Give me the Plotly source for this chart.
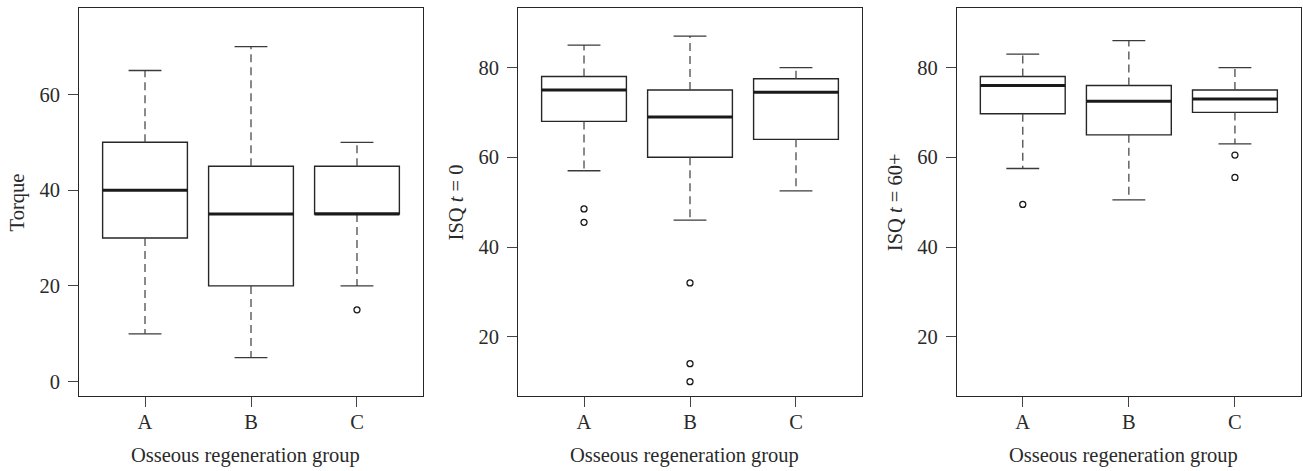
import plotly.graph_objects as go

# ---------------- data ----------------
groups = ["A", "B", "C"]
positions = [1, 2, 3]

torque_q1 = [30, 20, 35]
torque_med = [40, 35, 35]
torque_q3 = [50, 45, 45]
torque_lo = [10, 5, 20]
torque_hi = [65, 70, 50]
torque_out = [[], [], [15]]

isq0_q1 = [68, 60, 64]
isq0_med = [75, 69, 74.5]
isq0_q3 = [78, 75, 77.5]
isq0_lo = [57, 46, 52.5]
isq0_hi = [85, 87, 80]
isq0_out = [[48.5, 45.5], [32, 14, 10], []]

isq60_q1 = [69.7, 65, 70]
isq60_med = [76, 72.5, 73]
isq60_q3 = [78, 76, 75]
isq60_lo = [57.5, 50.5, 63]
isq60_hi = [83, 86, 80]
isq60_out = [[49.5], [], [60.5, 55.5]]

y_titles = ["Torque", "ISQ <i>t</i> = 0", "ISQ <i>t</i> = 60+"]
x_title = "Osseous regeneration group"
y_ticks = [[0, 20, 40, 60], [20, 40, 60, 80], [20, 40, 60, 80]]
y_ranges = [[-3, 78], [6.8, 93.2], [6.8, 93.2]]

# ---------------- style ----------------
W, H = 1303, 471
FONT = "Liberation Serif, Times New Roman, serif"
FS = 20.5
TXT = "#2a2a2a"
LINE = "#262626"
BOX_HALF = 0.4
CAP_HALF = 0.155
frames_px = [(79.3, 422.7), (518.3, 861.7), (957.0, 1300.7)]
frame_top, frame_bot = 8.3, 396.0
xtitle_centers = [245.5, 684.5, 1123.0]

panels = [
    (torque_q1, torque_med, torque_q3, torque_lo, torque_hi, torque_out),
    (isq0_q1, isq0_med, isq0_q3, isq0_lo, isq0_hi, isq0_out),
    (isq60_q1, isq60_med, isq60_q3, isq60_lo, isq60_hi, isq60_out),
]

fig = go.Figure()
annotations = []
layout_axes = {}

for i, (q1, med, q3, lo, hi, outs) in enumerate(panels):
    sfx = "" if i == 0 else str(i + 1)
    xa, ya = "x" + sfx, "y" + sfx

    # dashed whiskers
    wx, wy = [], []
    for p, a, b, c, d in zip(positions, q1, q3, lo, hi):
        wx += [p, p, None, p, p, None]
        wy += [b, d, None, a, c, None]
    fig.add_trace(go.Scatter(x=wx, y=wy, mode="lines", xaxis=xa, yaxis=ya,
                             line=dict(color="#4a4a4a", width=1.3, dash="8px,5px"),
                             hoverinfo="skip"))
    # whisker caps
    cx, cy = [], []
    for p, c, d in zip(positions, lo, hi):
        cx += [p - CAP_HALF, p + CAP_HALF, None, p - CAP_HALF, p + CAP_HALF, None]
        cy += [d, d, None, c, c, None]
    fig.add_trace(go.Scatter(x=cx, y=cy, mode="lines", xaxis=xa, yaxis=ya,
                             line=dict(color="#3a3a3a", width=1.3),
                             hoverinfo="skip"))
    # boxes
    fig.add_trace(go.Box(x=positions, q1=q1, median=med, q3=q3,
                         lowerfence=q1, upperfence=q3, width=2 * BOX_HALF,
                         xaxis=xa, yaxis=ya, fillcolor="white",
                         line=dict(color=LINE, width=1.4), boxpoints=False))
    # thick medians
    mx, my = [], []
    for p, m in zip(positions, med):
        mx += [p - BOX_HALF, p + BOX_HALF, None]
        my += [m, m, None]
    fig.add_trace(go.Scatter(x=mx, y=my, mode="lines", xaxis=xa, yaxis=ya,
                             line=dict(color="#1a1a1a", width=3),
                             hoverinfo="skip"))
    # outliers
    ox, oy = [], []
    for p, vals in zip(positions, outs):
        for v in vals:
            ox.append(p)
            oy.append(v)
    if ox:
        fig.add_trace(go.Scatter(x=ox, y=oy, mode="markers", xaxis=xa, yaxis=ya,
                                 marker=dict(symbol="circle-open", size=6,
                                             color="#1a1a1a", line=dict(width=1.3))))

    x0, x1 = frames_px[i]
    layout_axes["xaxis" + sfx] = dict(
        domain=[x0 / W, x1 / W], anchor=ya, range=[0.38, 3.62],
        tickvals=positions, ticktext=groups, ticks="outside", ticklen=10,
        tickwidth=1.3, tickcolor="#444", showline=True, mirror=True,
        linecolor=LINE, linewidth=1.3, showgrid=False, zeroline=False,
        ticklabelstandoff=-3,
        tickfont=dict(family=FONT, size=FS, color=TXT), fixedrange=True)
    layout_axes["yaxis" + sfx] = dict(
        domain=[1 - frame_bot / H, 1 - frame_top / H], anchor=xa,
        range=y_ranges[i], tickvals=y_ticks[i], ticks="outside", ticklen=10,
        tickwidth=1.3, tickcolor="#444", showline=True, mirror=True,
        linecolor=LINE, linewidth=1.3, showgrid=False, zeroline=False,
        ticklabelstandoff=4,
        tickfont=dict(family=FONT, size=FS, color=TXT), fixedrange=True)

    annotations.append(dict(
        text=x_title, x=xtitle_centers[i] / W, y=1 - 455 / H, xref="paper",
        yref="paper", xanchor="center", yanchor="middle", showarrow=False,
        font=dict(family=FONT, size=FS, color=TXT)))
    annotations.append(dict(
        text=y_titles[i], x=(x0 - 62) / W, y=1 - ((frame_top + frame_bot) / 2) / H,
        xref="paper", yref="paper", xanchor="center", yanchor="middle",
        textangle=-90, showarrow=False,
        font=dict(family=FONT, size=FS, color=TXT)))

fig.update_layout(
    width=W, height=H, margin=dict(l=0, r=0, t=0, b=0),
    paper_bgcolor="white", plot_bgcolor="white", showlegend=False,
    annotations=annotations, **layout_axes)

fig.write_html("out.html", config={"displayModeBar": False},
               post_script="document.body.style.margin='0';document.body.style.overflow='hidden';")
